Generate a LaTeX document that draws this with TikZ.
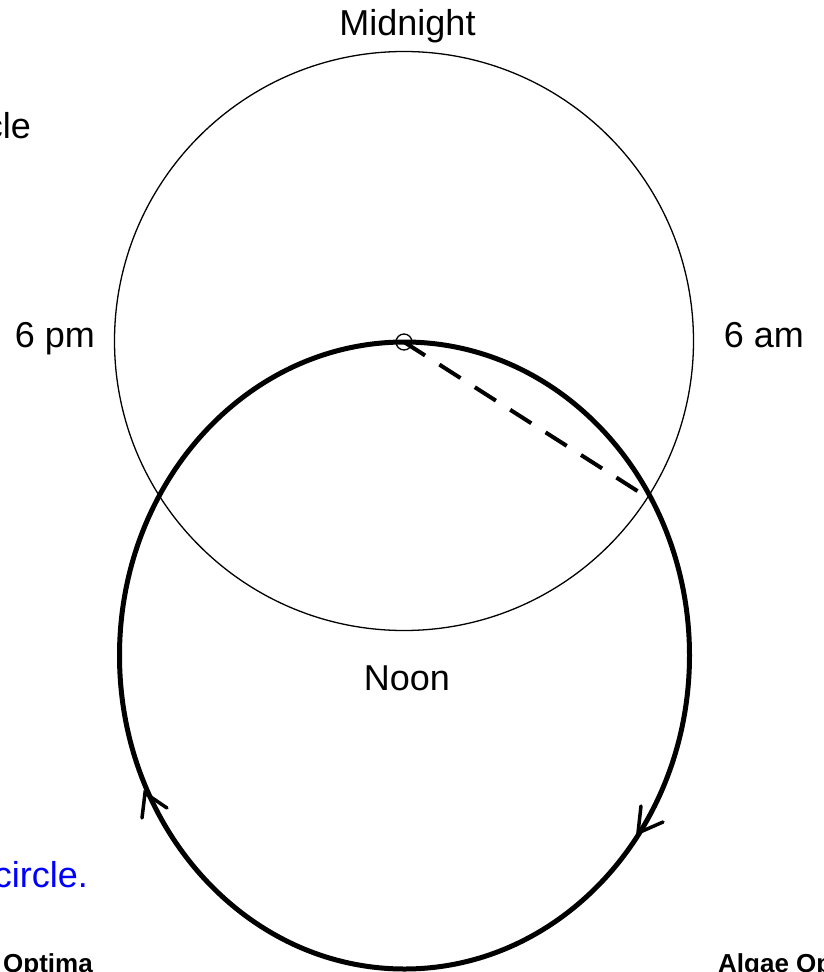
\documentclass[tikz,border=0pt]{standalone}
\usepackage{fontspec}
\setmainfont{Liberation Sans}
\begin{document}
\begin{tikzpicture}[x=1pt,y=-1pt,
  lbl/.style={font=\fontsize{36}{40}\selectfont, inner sep=0pt, anchor=base},
  small/.style={font=\fontsize{26}{28}\selectfont\bfseries, inner sep=0pt, anchor=base west},
  thin/.style={line width=1.3pt},
  thick/.style={line width=5pt},
  tip/.style={line width=3.5pt, line cap=round, line join=miter}]
\useasboundingbox (0,0) rectangle (824,972);
% circles
\draw[thin] (404,341) circle [radius=289.5];
\draw[thick] (404.5,655.5) ellipse [x radius=285, y radius=313.5];
% centre marker and radius
\node[draw, thin, circle, minimum size=16pt, inner sep=0pt] (ctr) at (404,342) {};
\coordinate (cross) at (639,492);
\draw[line width=4pt, dash pattern=on 25pt off 17pt] (ctr.center) -- (cross);
% direction arrows
\coordinate (tl) at (145,793);
\coordinate (tr) at (638,833);
\draw[tip] (142,818) -- (tl) -- (167,808);
\draw[tip] (641,806) -- (tr) -- (663,822);
% labels
\node[lbl] (mid) at (407.5,35) {Midnight};
\node[lbl] (pm) at (55,347) {6 pm};
\node[lbl] (am) at (764,347) {6 am};
\node[lbl] (noon) at (407,690) {Noon};
\node[lbl, anchor=base east] (cle) at (31,138) {cle};
\node[lbl, anchor=base east, text=blue] (circ) at (88,887) {circle.};
\node[small] (opt) at (3,972) {Optima};
\node[small] (alg) at (718,972) {Algae Op};
\end{tikzpicture}
\end{document}
